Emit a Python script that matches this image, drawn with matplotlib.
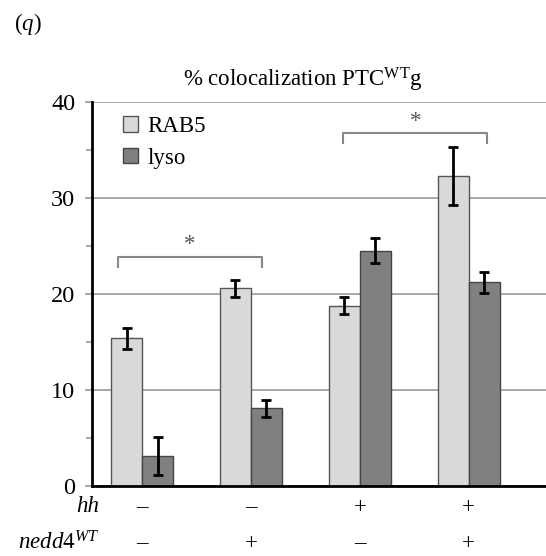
import matplotlib.pyplot as plt
import numpy as np

# values
groups = [0, 1, 2, 3]
hh = ["\u2013", "\u2013", "+", "+"]
nedd4 = ["\u2013", "+", "\u2013", "+"]
rab5 = [15.4, 20.6, 18.8, 32.3]
rab5_err = [1.1, 0.9, 0.9, 3.0]
lyso = [3.1, 8.1, 24.5, 21.2]
lyso_err = [2.0, 0.9, 1.3, 1.1]
yticks = [0, 10, 20, 30, 40]


def main():
    plt.rcParams['font.family'] = ['Liberation Serif', 'DejaVu Serif']
    plt.rcParams['mathtext.fontset'] = 'custom'
    plt.rcParams['mathtext.rm'] = 'Liberation Serif'
    plt.rcParams['mathtext.it'] = 'Liberation Serif:italic'
    FS = 16.5

    fig = plt.figure(figsize=(5.46, 5.56), dpi=100)
    ax = fig.add_axes([92 / 546, 1 - 486 / 556, 1 - 92 / 546, (486 - 102) / 556])

    x = np.array(groups, dtype=float)
    w = 0.284
    ax.bar(x - w / 2, rab5, w, color="#d9d9d9", edgecolor="#555555", linewidth=1, zorder=3, label="RAB5")
    ax.bar(x + w / 2, lyso, w, color="#808080", edgecolor="#444444", linewidth=1, zorder=3, label="lyso")
    ax.errorbar(x - w / 2, rab5, yerr=rab5_err, fmt="none", ecolor="black", elinewidth=2,
                capsize=3.5, capthick=2, zorder=4)
    ax.errorbar(x + w / 2, lyso, yerr=lyso_err, fmt="none", ecolor="black", elinewidth=2,
                capsize=3.5, capthick=2, zorder=4)

    ax.set_xlim(-0.46, 3.71)
    ax.set_ylim(0, 40)
    ax.set_yticks(yticks)
    ax.set_yticks([5, 15, 25, 35], minor=True)
    ax.yaxis.grid(True, color="#999999", linewidth=1.2, zorder=0)
    ax.set_axisbelow(True)
    ax.tick_params(axis="y", which="major", direction="out", length=5, width=1.2, color="#999999",
                   labelsize=17.5, pad=7)
    ax.tick_params(axis="y", which="minor", direction="out", length=4, width=1.2, color="#999999")
    ax.tick_params(axis="x", bottom=False, labelbottom=False)
    for s in ["top", "right"]:
        ax.spines[s].set_visible(False)
    ax.spines["left"].set_linewidth(2)
    ax.spines["bottom"].set_linewidth(2)
    ax.spines["left"].set_zorder(5)
    ax.spines["bottom"].set_zorder(5)

    # significance brackets
    for (a, b, y, star) in [(-0.22, 1.10, 23.9, 25.2), (1.85, 3.17, 36.8, 38.0)]:
        ax.plot([a, a, b, b], [y - 1.1, y, y, y - 1.1], color="#888888", linewidth=1.5, zorder=2)
        ax.text((a + b) / 2, star, "*", ha="center", va="center", fontsize=FS, color="#555555")

    ax.legend(loc="upper left", bbox_to_anchor=(0.068, 0.963), frameon=False, fontsize=FS,
              handlelength=0.68, handleheight=0.68, handletextpad=0.4, labelspacing=0.45,
              borderpad=0, borderaxespad=0)

    fig.text(303 / 546, 1 - 80 / 556, r"% colocalization PTC$^{\mathrm{WT}}$g", ha="center", va="center",
             fontsize=FS)
    fig.text(14 / 546, 1 - 24 / 556, r"($\mathit{q}$)", fontsize=FS, va="center", ha="left")

    # condition rows under the axis
    fig.text(99 / 546, 1 - 507 / 556, "hh", style="italic", fontsize=FS, ha="right", va="center")
    fig.text(99 / 546, 1 - 543 / 556, r"$\mathit{nedd4}^{\mathit{WT}}$", fontsize=FS, ha="right",
             va="center")
    for i in range(len(groups)):
        ax.text(x[i], -2.2, hh[i], fontsize=FS, ha="center", va="center", clip_on=False)
        ax.text(x[i], -6.0, nedd4[i], fontsize=FS, ha="center", va="center", clip_on=False)

    fig.savefig("out.png", dpi=100)


if __name__ == "__main__":
    main()
